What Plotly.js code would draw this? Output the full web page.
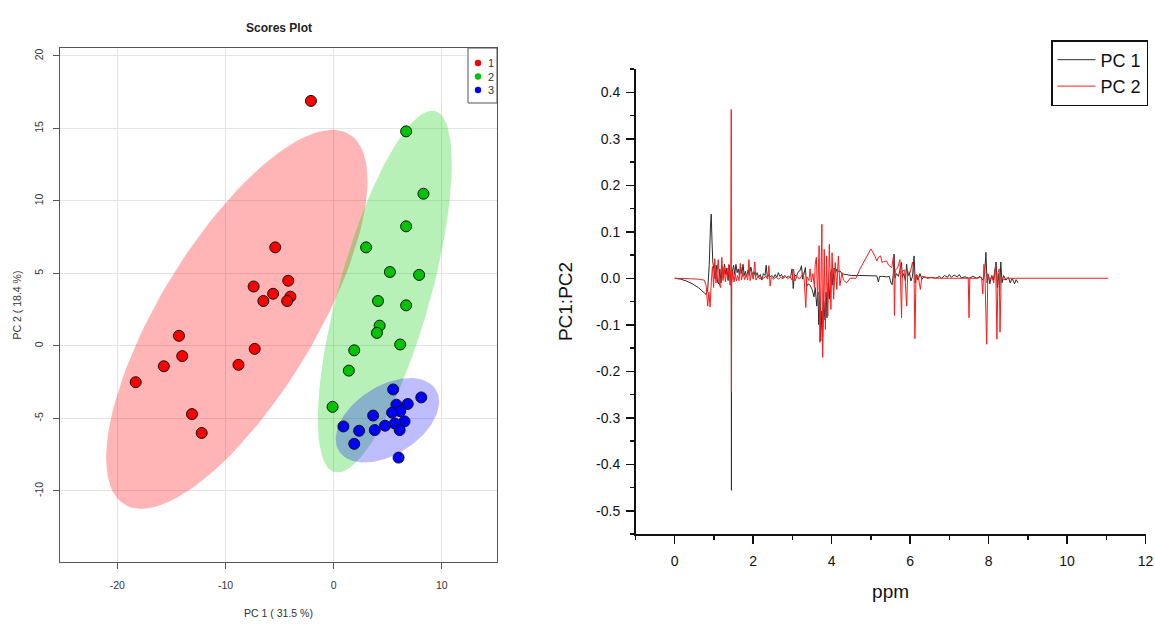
<!DOCTYPE html>
<html>
<head>
<meta charset="utf-8">
<script src="https://cdn.plot.ly/plotly-3.0.1.min.js"></script>
<style>
  html, body { margin: 0; padding: 0; background: #ffffff; }
  #chart { width: 1155px; height: 638px; }
</style>
</head>
<body>
<div id="chart"></div>
<script>
// ---------- PCA scores (left panel) ----------
const groupNames = ['1', '2', '3'];
const group1PC1 = [-2.1, -5.4, -7.4, -5.6, -6.5, -4.2, -4.0, -4.3, -14.3, -14.0, -15.7, -18.3, -7.3, -8.8, -13.1, -12.2];
const group1PC2 = [16.9, 6.8, 4.1, 3.6, 3.1, 4.5, 3.4, 3.1, 0.7, -0.7, -1.4, -2.5, -0.2, -1.3, -4.7, -6.0];
const group2PC1 = [6.7, 8.3, 6.7, 3.0, 5.2, 7.9, 4.1, 6.7, 4.25, 4.0, 6.15, 1.9, 1.4, -0.1];
const group2PC2 = [14.8, 10.5, 8.25, 6.8, 5.1, 4.9, 3.1, 2.8, 1.4, 0.9, 0.1, -0.3, -1.7, -4.2];
const group3PC1 = [5.5, 8.1, 5.8, 6.85, 6.15, 5.4, 3.65, 6.55, 5.65, 4.75, 6.1, 3.8, 0.9, 2.35, 1.9, 6.0];
const group3PC2 = [-3.0, -3.55, -4.05, -4.0, -4.5, -4.6, -4.8, -5.2, -5.35, -5.5, -5.8, -5.8, -5.55, -5.85, -6.75, -7.7];
const scoreXTicks = [-20, -10, 0, 10];
const scoreXTickText = ['-20', '-10', '0', '10'];
const scoreYTicks = [-10, -5, 0, 5, 10, 15, 20];
const scoreYTickText = ['-10', '-5', '0', '5', '10', '15', '20'];

// ---------- PCA loadings over the spectrum (right panel) ----------
const pc1Ppm = [0.00,0.15,0.30,0.45,0.60,0.72,0.80,0.84,0.88,0.91,0.93,0.95,0.97,1.00,1.03,1.06,1.09,1.12,1.15,1.18,1.21,1.24,1.27,1.30,1.33,1.36,1.39,1.42,1.44,1.445,1.45,1.47,1.50,1.53,1.56,1.59,1.62,1.65,1.68,1.71,1.74,1.77,1.80,1.83,1.87,1.90,1.94,1.98,2.02,2.06,2.10,2.14,2.18,2.22,2.26,2.30,2.33,2.36,2.40,2.44,2.48,2.52,2.56,2.60,2.64,2.68,2.72,2.76,2.80,2.85,2.90,2.95,2.99,3.02,3.05,3.10,3.15,3.19,3.23,3.26,3.30,3.33,3.36,3.40,3.45,3.50,3.55,3.58,3.62,3.65,3.67,3.70,3.72,3.75,3.77,3.80,3.83,3.86,3.88,3.91,3.94,3.97,4.00,4.03,4.06,4.10,4.13,4.17,4.21,4.26,4.30,4.40,4.50,4.70,4.90,5.05,5.15,5.19,5.22,5.30,5.40,5.47,5.50,5.54,5.57,5.59,5.61,5.65,5.70,5.74,5.78,5.80,5.84,5.88,5.91,5.94,5.98,6.02,6.06,6.10,6.13,6.16,6.20,6.25,6.30,6.35,6.45,6.55,6.65,6.75,6.80,6.88,6.95,7.00,7.05,7.12,7.20,7.25,7.30,7.40,7.50,7.60,7.70,7.78,7.85,7.90,7.93,7.96,7.99,8.03,8.08,8.12,8.16,8.19,8.22,8.25,8.28,8.31,8.34,8.38,8.44,8.50,8.55,8.60,8.66,8.70,8.75];
const pc1Load = [0.000,-0.002,-0.006,-0.012,-0.020,-0.028,-0.035,-0.025,0.030,0.110,0.138,0.080,0.035,0.018,-0.002,0.028,-0.008,-0.012,0.020,-0.010,0.025,0.000,0.030,0.008,0.022,-0.005,0.028,0.010,-0.020,-0.456,-0.010,0.015,0.028,0.008,0.030,0.012,0.020,0.005,0.024,0.010,0.030,0.006,0.015,0.004,0.018,0.006,0.024,0.008,0.014,0.004,0.012,0.002,0.008,-0.004,0.010,0.006,0.028,0.002,0.008,0.003,0.006,0.001,0.008,0.002,0.012,0.004,0.008,0.001,0.006,0.002,0.004,0.001,0.020,-0.022,0.008,0.004,0.014,0.016,0.027,-0.002,0.010,0.023,-0.018,-0.012,-0.015,-0.024,-0.040,-0.020,-0.060,-0.030,-0.100,-0.040,-0.135,-0.070,-0.125,-0.050,-0.090,-0.030,-0.085,-0.010,-0.045,0.010,0.020,-0.015,0.022,0.012,0.020,0.014,0.016,0.010,0.009,0.007,0.006,0.006,0.006,0.006,0.005,-0.008,0.004,0.004,0.003,0.004,-0.008,-0.014,0.010,0.052,0.000,0.010,0.004,0.018,0.034,0.002,0.010,-0.006,0.030,0.005,0.012,-0.006,0.004,0.048,-0.010,0.008,-0.004,0.010,-0.002,0.003,0.000,0.002,0.000,0.004,0.000,0.006,0.002,0.008,0.002,0.007,0.003,0.008,0.001,0.003,0.000,0.004,0.000,0.004,-0.004,0.010,0.056,-0.010,0.008,-0.012,0.006,-0.004,0.020,0.035,-0.020,0.010,-0.028,0.035,-0.010,0.006,-0.004,0.002,-0.010,0.000,-0.012,-0.003,-0.010];
const pc2Ppm = [0.00,0.20,0.40,0.60,0.75,0.80,0.84,0.87,0.90,0.93,0.96,0.99,1.02,1.05,1.08,1.11,1.14,1.17,1.20,1.23,1.26,1.29,1.32,1.35,1.38,1.41,1.43,1.44,1.445,1.45,1.48,1.51,1.54,1.57,1.60,1.64,1.67,1.70,1.74,1.78,1.82,1.86,1.89,1.92,1.96,2.00,2.04,2.07,2.12,2.17,2.22,2.27,2.32,2.37,2.40,2.43,2.46,2.52,2.58,2.64,2.70,2.76,2.82,2.88,2.94,2.99,3.03,3.06,3.12,3.18,3.24,3.27,3.30,3.34,3.37,3.42,3.45,3.48,3.52,3.56,3.58,3.61,3.64,3.66,3.68,3.70,3.72,3.75,3.77,3.79,3.81,3.84,3.87,3.90,3.94,3.98,4.01,4.05,4.09,4.13,4.17,4.21,4.26,4.30,4.38,4.47,4.62,4.72,4.85,5.00,5.10,5.15,5.19,5.25,5.28,5.32,5.40,5.45,5.53,5.58,5.60,5.62,5.68,5.74,5.78,5.80,5.86,5.91,5.94,6.00,6.06,6.10,6.12,6.15,6.20,6.26,6.30,6.40,6.55,6.70,7.00,7.30,7.48,7.50,7.52,7.70,7.82,7.85,7.88,7.91,7.95,7.98,8.02,8.08,8.13,8.18,8.21,8.24,8.27,8.29,8.32,8.38,8.45,8.60,9.00,10.00,11.05];
const pc2Load = [0.000,0.000,-0.001,-0.002,-0.004,-0.015,-0.060,-0.030,-0.062,-0.010,0.025,-0.020,0.042,-0.010,0.010,0.040,-0.015,-0.020,0.045,-0.005,0.025,-0.008,0.015,-0.002,0.030,-0.015,0.020,0.363,-0.245,-0.010,0.015,-0.008,0.010,-0.006,0.006,-0.005,0.032,-0.004,0.012,-0.003,0.008,-0.004,0.040,-0.005,0.012,-0.002,0.035,-0.004,0.004,-0.002,0.003,0.000,0.005,-0.002,0.027,-0.017,0.002,-0.002,0.003,-0.002,0.002,-0.001,0.004,-0.001,0.003,-0.004,0.020,-0.006,0.004,-0.002,0.006,0.012,-0.004,-0.063,0.003,-0.005,0.020,-0.008,0.010,-0.020,0.030,0.045,-0.045,0.030,0.070,-0.138,0.020,0.116,-0.170,-0.040,0.062,-0.110,0.048,-0.081,0.073,-0.067,0.055,-0.045,0.034,-0.024,0.048,-0.016,0.012,-0.004,-0.010,0.000,0.000,0.020,0.040,0.063,0.048,0.037,0.045,0.048,0.034,0.036,0.037,0.028,0.023,0.050,-0.080,0.018,0.022,0.040,-0.085,0.016,0.018,-0.060,0.014,0.012,0.035,0.008,-0.130,0.006,0.006,-0.024,0.004,0.002,0.001,0.000,0.000,0.000,0.000,-0.085,0.000,0.000,0.002,-0.034,0.030,-0.008,-0.142,0.010,-0.004,0.004,-0.010,0.030,-0.131,0.012,0.020,-0.116,0.004,-0.004,0.000,0.000,0.000,0.000,0.000];
const ppmTicks = [0, 2, 4, 6, 8, 10, 12];
const ppmTickText = ['0', '2', '4', '6', '8', '10', '12'];
const loadTicks = [-0.5, -0.4, -0.3, -0.2, -0.1, 0.0, 0.1, 0.2, 0.3, 0.4];
const loadTickText = ['-0.5', '-0.4', '-0.3', '-0.2', '-0.1', '0.0', '0.1', '0.2', '0.3', '0.4'];

// 95% confidence ellipse of a 2-D point cloud (chi-square, 2 d.f.)
function confidenceEllipse(xs, ys, nPts) {
  const n = xs.length;
  const mx = xs.reduce((a, b) => a + b, 0) / n;
  const my = ys.reduce((a, b) => a + b, 0) / n;
  let sxx = 0, syy = 0, sxy = 0;
  for (let i = 0; i < n; i++) {
    const dx = xs[i] - mx, dy = ys[i] - my;
    sxx += dx * dx; syy += dy * dy; sxy += dx * dy;
  }
  sxx /= (n - 1); syy /= (n - 1); sxy /= (n - 1);
  const t = Math.sqrt(5.991464547);
  // Cholesky factor of the covariance matrix
  const l11 = Math.sqrt(sxx);
  const l21 = sxy / l11;
  const l22 = Math.sqrt(syy - l21 * l21);
  const ex = [], ey = [];
  for (let k = 0; k <= nPts; k++) {
    const a = 2 * Math.PI * k / nPts;
    const u = Math.cos(a), v = Math.sin(a);
    ex.push(mx + t * (l11 * u));
    ey.push(my + t * (l21 * u + l22 * v));
  }
  return { x: ex, y: ey };
}

const groups = [
  { name: groupNames[0], x: group1PC1, y: group1PC2, color: '#ff0000', fill: 'rgba(255,0,0,0.29)' },
  { name: groupNames[1], x: group2PC1, y: group2PC2, color: '#00c400', fill: 'rgba(0,205,0,0.28)' },
  { name: groupNames[2], x: group3PC1, y: group3PC2, color: '#0000ff', fill: 'rgba(0,0,255,0.26)' }
];

const traces = [];
groups.forEach(g => {
  const e = confidenceEllipse(g.x, g.y, 120);
  traces.push({
    type: 'scatter', mode: 'lines', x: e.x, y: e.y, xaxis: 'x', yaxis: 'y',
    fill: 'toself', fillcolor: g.fill, line: { width: 0, color: 'rgba(0,0,0,0)' },
    hoverinfo: 'skip', showlegend: false
  });
});
groups.forEach(g => {
  traces.push({
    type: 'scatter', mode: 'markers', x: g.x, y: g.y, xaxis: 'x', yaxis: 'y',
    name: g.name, showlegend: false,
    marker: { size: 11, color: g.color, line: { color: '#111', width: 1 } }
  });
});

traces.push({
  type: 'scatter', mode: 'lines', x: pc1Ppm, y: pc1Load, xaxis: 'x2', yaxis: 'y2',
  name: 'PC 1', line: { color: '#2b2b2b', width: 1 }
});
traces.push({
  type: 'scatter', mode: 'lines', x: pc2Ppm, y: pc2Load, xaxis: 'x2', yaxis: 'y2',
  name: 'PC 2', line: { color: '#ff1a1a', width: 1 }
});

const W = 1155, H = 638;
const leftFont = { family: 'Liberation Sans, Arial, sans-serif', size: 10.5, color: '#333' };
const rightFont = { family: 'Liberation Sans, Arial, sans-serif', size: 14, color: '#111' };

// compact key box for the score groups, top-right inside the score panel
const keyShapes = [{
  type: 'rect', xref: 'paper', yref: 'paper',
  x0: 468 / W, x1: 497 / W, y0: 1 - 103 / H, y1: 1 - 48 / H,
  line: { color: '#555', width: 1 }, fillcolor: '#ffffff', layer: 'above'
}];
const keyNotes = [];
groups.forEach((g, i) => {
  const cy = 63 + i * 13.5;
  keyShapes.push({
    type: 'circle', xref: 'paper', yref: 'paper',
    x0: (478 - 3.2) / W, x1: (478 + 3.2) / W, y0: 1 - (cy + 3.2) / H, y1: 1 - (cy - 3.2) / H,
    line: { width: 0 }, fillcolor: g.color, layer: 'above'
  });
  keyNotes.push({
    text: g.name, xref: 'paper', yref: 'paper', x: 486 / W, y: 1 - cy / H,
    xanchor: 'left', yanchor: 'middle', showarrow: false,
    font: { family: leftFont.family, size: 11, color: '#333' }
  });
});

const layout = {
  width: W, height: H,
  margin: { l: 0, r: 0, t: 0, b: 0 },
  paper_bgcolor: '#ffffff', plot_bgcolor: 'rgba(0,0,0,0)',
  showlegend: true,
  xaxis: {
    domain: [60 / W, 497 / W], range: [-25.3, 15.1], anchor: 'y',
    tickmode: 'array', tickvals: scoreXTicks, ticktext: scoreXTickText,
    ticks: 'outside', ticklen: 6, tickcolor: '#555', ticklabelstandoff: 7,
    showline: true, mirror: true, linecolor: '#555', linewidth: 1.3,
    showgrid: true, gridcolor: '#e3e3e3', gridwidth: 1, zeroline: false,
    tickfont: leftFont,
    title: { text: 'PC 1 ( 31.5 %)', font: leftFont, standoff: 19 }
  },
  yaxis: {
    domain: [1 - 562 / H, 1 - 48 / H], range: [-14.9, 20.55], anchor: 'x',
    tickmode: 'array', tickvals: scoreYTicks, ticktext: scoreYTickText, tickangle: -90,
    ticks: 'outside', ticklen: 6, tickcolor: '#555', ticklabelstandoff: 6,
    showline: true, mirror: true, linecolor: '#555', linewidth: 1.3,
    showgrid: true, gridcolor: '#e3e3e3', gridwidth: 1, zeroline: false,
    tickfont: leftFont,
    title: { text: 'PC 2 ( 18.4 %)', font: leftFont, standoff: 8 }
  },
  xaxis2: {
    domain: [635.5 / W, 1145.6 / W], range: [-1, 12], anchor: 'y2',
    tickmode: 'array', tickvals: ppmTicks, ticktext: ppmTickText,
    ticks: 'outside', ticklen: 8, tickwidth: 1.5, tickcolor: '#111', ticklabelstandoff: 6,
    minor: { ticks: 'outside', ticklen: 4, tickwidth: 1.5, tickcolor: '#111', dtick: 1, tick0: 0, showgrid: false },
    showline: true, linecolor: '#111', linewidth: 1.5,
    showgrid: false, zeroline: false,
    tickfont: rightFont,
    title: { text: 'ppm', font: { family: rightFont.family, size: 19, color: '#111' }, standoff: 16 }
  },
  yaxis2: {
    domain: [1 - 534 / H, 1 - 69 / H], range: [-0.55, 0.45], anchor: 'x2',
    tickmode: 'array', tickvals: loadTicks, ticktext: loadTickText,
    ticks: 'outside', ticklen: 8, tickwidth: 1.5, tickcolor: '#111', ticklabelstandoff: 3,
    minor: { ticks: 'outside', ticklen: 4, tickwidth: 1.5, tickcolor: '#111', dtick: 0.05, tick0: 0, showgrid: false },
    showline: true, linecolor: '#111', linewidth: 1.5,
    showgrid: false, zeroline: false,
    tickfont: rightFont,
    title: { text: 'PC1:PC2', font: { family: rightFont.family, size: 19, color: '#111' }, standoff: 18 }
  },
  legend: {
    x: 1148 / W, xanchor: 'right', y: 1 - 40 / H, yanchor: 'top',
    bgcolor: '#ffffff', bordercolor: '#111', borderwidth: 1.5,
    font: { family: rightFont.family, size: 18, color: '#111' },
    tracegroupgap: 0, itemwidth: 38
  },
  shapes: keyShapes,
  annotations: [{
    text: '<b>Scores Plot</b>', xref: 'paper', yref: 'paper',
    x: (60 + 497) / 2 / W, y: 1 - 28 / H, xanchor: 'center', yanchor: 'middle',
    showarrow: false, font: { family: leftFont.family, size: 12, color: '#222' }
  }].concat(keyNotes)
};

Plotly.newPlot('chart', traces, layout, { displayModeBar: false, staticPlot: true });
</script>
</body>
</html>
